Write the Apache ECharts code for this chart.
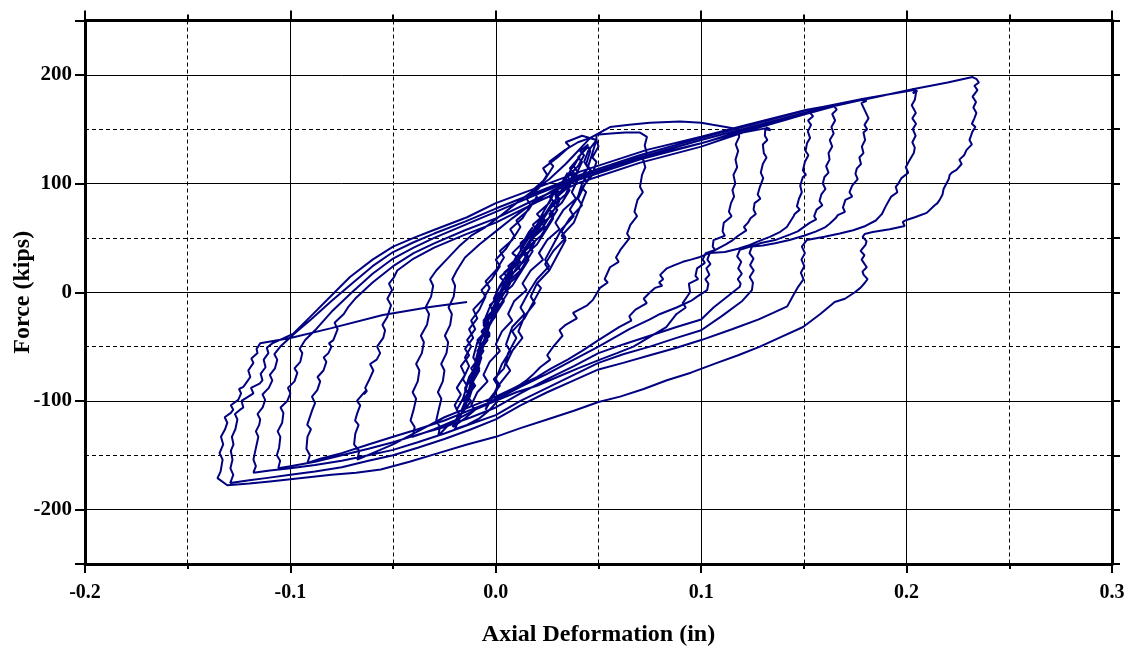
<!DOCTYPE html>
<html>
<head>
<meta charset="utf-8">
<script src="https://cdn.jsdelivr.net/npm/echarts@6/dist/echarts.min.js"></script>
<style>html,body{margin:0;padding:0;background:#fff}#chart{width:1131px;height:650px}</style>
</head>
<body>
<div id="chart"></div>
<script>
// ---- data (x = axial deformation in, y = force kips) ----
const xTitle = 'Axial Deformation (in)';
const yTitle = 'Force (kips)';

const elastic = [
[0.000,0],[0.004,10],[0.002,14],[0.007,22],[0.010,33],[0.008,36],[0.013,45],[0.016,55],[0.018,60],
[0.015,50],[0.012,40],[0.014,36],[0.009,26],[0.006,15],[0.003,4],[0.000,-8],[0.002,-12],[-0.003,-22],[-0.005,-34],[-0.003,-40],[-0.007,-48],[-0.009,-60],
[-0.006,-48],[-0.004,-36],[-0.006,-30],[-0.002,-22],[0.000,-10],[0.003,0],[0.006,12],[0.004,18],[0.010,28],[0.014,40],[0.012,45],[0.018,56],[0.022,68],[0.020,72],[0.026,82],[0.028,90],
[0.025,80],[0.022,70],[0.024,66],[0.018,56],[0.014,44],[0.010,32],[0.012,28],[0.006,18],[0.002,6],[-0.001,-6],[0.001,-12],[-0.004,-22],[-0.006,-36],[-0.004,-44],[-0.008,-54],[-0.010,-66],[-0.008,-72],[-0.012,-85],
[-0.009,-72],[-0.007,-60],[-0.009,-54],[-0.005,-44],[-0.003,-30],[-0.001,-18],[-0.003,-12],[0.002,-4],[0.005,8],[0.008,20],[0.006,24],[0.012,34],[0.016,46],[0.020,58],[0.018,62],[0.024,72],[0.028,84],[0.026,88],[0.032,98],[0.035,110],
[0.032,100],[0.029,90],[0.031,86],[0.025,74],[0.021,62],[0.017,50],[0.019,46],[0.013,36],[0.009,24],[0.005,12],[0.007,8],[0.001,-2],[-0.003,-14],[-0.006,-28],[-0.004,-34],[-0.009,-46],[-0.011,-60],[-0.009,-66],[-0.013,-78],[-0.015,-90],[-0.013,-94],[-0.016,-100],
[-0.012,-88],[-0.010,-76],[-0.012,-70],[-0.008,-60],[-0.006,-46],[-0.004,-32],[-0.006,-26],[-0.001,-16],[0.003,-4],[0.007,8],[0.005,12],[0.011,22],[0.015,34],[0.019,46],[0.017,50],[0.023,60],[0.027,72],[0.031,84],[0.029,88],[0.035,98],[0.038,110],[0.036,114],[0.041,125],
[0.037,114],[0.034,104],[0.036,98],[0.030,88],[0.026,76],[0.022,64],[0.024,60],[0.018,50],[0.014,38],[0.010,26],[0.012,20],[0.006,10],[0.002,-2],[-0.002,-16],[0.000,-22],[-0.005,-34],[-0.008,-48],[-0.006,-54],[-0.010,-66],[-0.012,-80],[-0.010,-86],[-0.014,-96],[-0.017,-110],
[-0.013,-98],[-0.011,-86],[-0.013,-80],[-0.009,-70],[-0.007,-56],[-0.005,-42],[-0.007,-36],[-0.002,-26],[0.002,-12],[0.006,0],[0.004,4],[0.010,14],[0.014,26],[0.018,38],[0.016,42],[0.022,52],[0.026,64],[0.030,76],[0.028,80],[0.034,90],[0.037,102],[0.035,106],[0.040,116],[0.043,126],[0.041,130],[0.045,136],
[0.041,126],[0.038,116],[0.040,110],[0.034,100],[0.030,88],[0.026,76],[0.028,72],[0.022,62],[0.018,50],[0.014,38],[0.016,32],[0.010,22],[0.006,10],[0.002,-2],[0.004,-8],[-0.002,-18],[-0.005,-32],[-0.003,-38],[-0.008,-50],[-0.010,-64],[-0.008,-70],[-0.012,-82],[-0.014,-96],[-0.012,-100],[-0.016,-110],[-0.019,-118],
[-0.015,-106],[-0.013,-94],[-0.015,-88],[-0.011,-78],[-0.009,-64],[-0.007,-50],[-0.009,-44],[-0.004,-34],[0.000,-20],[0.004,-8],[0.002,-4],[0.008,6],[0.012,18],[0.016,30],[0.014,34],[0.020,44],[0.024,56],[0.028,68],[0.026,72],[0.032,82],[0.036,94],[0.034,98],[0.039,108],[0.042,120],[0.040,124],[0.045,134],[0.046,130],
[0.044,118],[0.046,112],[0.042,100],[0.040,88],[0.036,76],[0.038,70],[0.032,58],[0.028,44],[0.024,30],[0.026,24],[0.020,12],[0.016,0],[0.012,-14],[0.014,-20],[0.008,-32],[0.005,-48],[0.007,-54],[0.003,-66],[0.000,-80],[0.002,-86],[-0.003,-98],[-0.005,-108],
[-0.002,-98],[0.001,-86],[-0.001,-80],[0.004,-70],[0.006,-56],[0.010,-42],[0.008,-36],[0.014,-24],[0.018,-10],[0.022,4],[0.020,8],[0.026,20],[0.030,34],[0.034,48],[0.032,52],[0.038,64],[0.041,78],[0.044,92],[0.042,96],[0.047,108],[0.049,120],[0.047,124],[0.050,134],[0.049,140],
[0.047,128],[0.045,116],[0.047,110],[0.043,98],[0.040,86],[0.042,80],[0.036,68],[0.032,56],[0.034,50],[0.028,38],[0.024,26],[0.026,20],[0.020,8],[0.017,-4],[0.019,-10],[0.014,-22],[0.011,-36],[0.013,-42],[0.008,-54],[0.005,-66],[0.007,-72],[0.002,-84],[-0.001,-96],[0.001,-100],[-0.004,-110],[-0.008,-116],[-0.014,-122],[-0.020,-126],
[-0.017,-114],[-0.019,-108],[-0.016,-98],[-0.014,-86],[-0.016,-80],[-0.013,-68],[-0.015,-60],[-0.012,-50],[-0.014,-44],[-0.010,-34],[-0.012,-26],[-0.008,-16],[-0.005,-4],[-0.007,2],[-0.002,12],[0.002,24],[0.000,30],[0.005,40],[0.009,52],[0.007,58],[0.013,68],[0.017,80],[0.015,86],[0.021,96],[0.025,108],[0.023,114],[0.030,124],[0.036,134],[0.034,138],[0.042,144],[0.049,140],
[0.045,130],[0.043,120],[0.045,114],[0.040,104],[0.037,92],[0.039,86],[0.033,76],[0.029,64],[0.031,58],[0.025,48],[0.021,36],[0.023,30],[0.017,20],[0.013,8],[0.015,2],[0.009,-8],[0.006,-20],[0.008,-26],[0.003,-36],[0.000,-48],[0.002,-54],[-0.003,-64],[-0.006,-76],[-0.004,-82],[-0.009,-92],[-0.012,-104],[-0.010,-108],[-0.015,-116],[-0.021,-124],
[-0.018,-112],[-0.020,-104],[-0.017,-94],[-0.019,-88],[-0.015,-76],[-0.017,-68],[-0.013,-58],[-0.015,-52],[-0.011,-42],[-0.013,-34],[-0.009,-24],[-0.011,-16],[-0.006,-6],[-0.003,4],[-0.005,10],[0.000,20],[0.004,32],[0.002,38],[0.008,48],[0.012,60],[0.010,66],[0.016,76],[0.020,88],[0.018,94],[0.024,104],[0.028,116],[0.026,120],[0.033,130],[0.040,138],[0.046,142],[0.049,140]
];

const cycle1 = [
[0.049,145],[0.056,146],[0.063,147],[0.070,147],[0.0736,143],
[0.0725,135],[0.0735,128],[0.0717,122],[0.0728,115],[0.0712,108],[0.0702,97],[0.0716,92],[0.069,85],[0.0675,74],[0.0688,70],[0.0655,62],[0.0639,54],[0.0652,50],[0.061,40],[0.0585,32],[0.0598,28],[0.0556,23],[0.053,12],[0.0545,9],[0.0507,4],[0.0473,-7],
[0.0445,-12],[0.0376,-19],[0.0395,-24],[0.034,-30],[0.031,-35],[0.0325,-40],[0.028,-50],[0.025,-58],[0.0265,-62],[0.0216,-69],[0.018,-76],[0.015,-81],[0.011,-86],[0.007,-90],
[0.000,-98],[-0.010,-108],[-0.020,-118],[-0.030,-126],[-0.0405,-133],
[-0.0395,-124],[-0.0415,-118],[-0.0400,-108],[-0.0388,-98],[-0.0405,-92],[-0.0380,-82],[-0.0372,-72],[-0.0388,-66],[-0.0360,-56],[-0.0350,-46],[-0.0365,-40],[-0.0335,-30],[-0.0325,-20],[-0.0342,-14],[-0.0315,-4],[-0.0305,6],[-0.0320,12],[-0.0290,20],
[-0.0240,30],[-0.0180,42],[-0.0120,52],[-0.005,60],[0.002,70],[0.010,82],[0.018,93],[0.026,104],[0.034,118],[0.040,130],[0.046,142],[0.0556,152],[0.065,154],[0.075,156],[0.0897,157],[0.100,156],[0.1056,154],[0.112,152],[0.118,150]
];

const cycle2 = [
[0.1185,143],[0.1168,136],[0.118,130],[0.1167,122],[0.1175,115],[0.1157,108],[0.1166,100],[0.1152,94],[0.1160,88],[0.1145,82],[0.1135,74],[0.1148,70],[0.111,64],[0.1104,56],[0.1115,52],[0.106,48],[0.1056,42],[0.1068,39],[0.1022,36],[0.1007,30],[0.1018,27],[0.098,22],[0.0972,15],[0.0985,12],[0.094,8],[0.0946,0],
[0.091,-10],[0.0925,-14],[0.088,-20],[0.083,-32],[0.076,-40],[0.067,-50],[0.059,-56],[0.0507,-62],[0.040,-70],[0.030,-78],[0.020,-86],[0.010,-92],[0.000,-100],[-0.010,-108],[-0.018,-116],[-0.024,-124],[-0.028,-132],
[-0.0272,-124],[-0.0290,-118],[-0.0278,-108],[-0.0265,-98],[-0.0282,-92],[-0.0258,-82],[-0.0250,-72],[-0.0266,-66],[-0.0240,-56],[-0.0232,-46],[-0.0248,-40],[-0.0222,-30],[-0.0214,-20],[-0.0230,-14],[-0.0205,-4],[-0.0198,6],[-0.0212,12],[-0.0190,20],
[-0.015,32],[-0.008,44],[0.000,56],[0.008,68],[0.018,82],[0.028,94],[0.041,105],[0.060,118],[0.080,128],[0.100,137],[0.115,145],[0.1319,151],
[0.1335,150],[0.1315,152],[0.1338,149],[0.1312,150]
];

const cycle3 = [
[0.131,144],[0.1322,140],[0.130,136],[0.1305,128],[0.1318,124],[0.1300,118],[0.129,110],[0.1302,105],[0.1286,97],[0.1275,90],[0.1288,86],[0.126,82],[0.1255,76],[0.1266,72],[0.1240,68],[0.1228,64],[0.1208,60],[0.1220,57],[0.1180,52],[0.1154,48],[0.112,44],[0.109,41],[0.104,36],[0.0994,32.5],[0.095,30],[0.0911,28],[0.087,25],[0.0833,22],
[0.080,16],[0.0815,12],[0.0795,9],[0.081,6],[0.0775,4],[0.0751,0],
[0.072,-6],[0.0735,-10],[0.068,-16],[0.065,-22],[0.066,-26],[0.060,-32],[0.055,-38],[0.050,-44],[0.042,-54],[0.035,-62],[0.027,-70],[0.020,-78],[0.010,-87],[0.000,-96],[-0.012,-105],[-0.025,-115],[-0.038,-128],[-0.050,-140],[-0.060,-148],[-0.0674,-154],
[-0.0665,-146],[-0.0690,-140],[-0.0684,-130],[-0.0668,-122],[-0.0685,-118],[-0.0674,-111],[-0.0660,-104],[-0.0676,-100],[-0.0645,-93],[-0.063,-90],[-0.0642,-94],[-0.0628,-91],[-0.0636,-88],[-0.0615,-80],[-0.0596,-72],[-0.0612,-66],[-0.0580,-62],[-0.0563,-56],[-0.0578,-50],[-0.0548,-42],[-0.0539,-35],[-0.0552,-30],[-0.0529,-23],
[-0.0510,-12],[-0.0528,-6],[-0.0505,2],[-0.0520,8],[-0.0495,14],[-0.0480,20],[-0.040,31],[-0.030,41],[-0.015,53],[0.000,64],[0.020,83],[0.041,101],[0.070,119],[0.100,134],[0.125,150],[0.140,158],[0.1529,165]
];

const cycle4 = [
[0.1545,162],[0.152,158],[0.1535,154],[0.1519,148],[0.1530,142],[0.1515,137],[0.1508,130],[0.1522,126],[0.1505,120],[0.1495,112],[0.1510,108],[0.1495,106],[0.1482,98],[0.149,92],[0.1476,86],[0.1466,79],[0.1480,76],[0.1455,72],[0.145,70],[0.1430,64],[0.1417,60],[0.1380,55],[0.1334,51],[0.128,47],[0.1237,43.5],[0.118,40],[0.1115,37],[0.1042,36],
[0.1030,30],[0.1045,26],[0.1025,22],[0.1040,16],[0.1020,12],[0.1035,8],[0.1029,2],
[0.098,-4],[0.095,-8],[0.088,-14],[0.080,-20],[0.075,-25],[0.065,-34],[0.050,-50],[0.038,-62],[0.025,-75],[0.012,-87],[0.000,-99],[-0.012,-108],[-0.025,-118],[-0.038,-126],[-0.050,-133],[-0.062,-140],[-0.075,-148],[-0.085,-153],[-0.0917,-157],
[-0.0905,-150],[-0.0922,-144],[-0.0917,-133],[-0.0900,-126],[-0.0918,-122],[-0.0893,-108],[-0.0880,-102],[-0.0895,-96],[-0.0869,-90],[-0.0855,-82],[-0.0868,-78],[-0.0839,-72],[-0.0825,-64],[-0.0838,-60],[-0.0815,-56],[-0.0800,-50],[-0.0812,-47],[-0.0791,-44],
[-0.0770,-34],[-0.0785,-28],[-0.0740,-20],[-0.0720,-14],[-0.0680,-5],[-0.060,9],[-0.050,24],[-0.040,36],[-0.030,45],[-0.015,57],[0.000,68],[0.020,86],[0.041,104],[0.070,122],[0.100,137],[0.122,150],[0.145,161],[0.1648,171]
];

const cycle5 = [
[0.1660,168],[0.1638,164],[0.1652,158],[0.1634,152],[0.1645,146],[0.1626,140],[0.1638,134],[0.1620,128],[0.1625,122],[0.1608,116],[0.1620,110],[0.1600,106],[0.1592,100],[0.1605,95],[0.1585,90],[0.1576,84],[0.1590,80],[0.1562,76],[0.1550,70],[0.1560,67],[0.1530,64],[0.1514,62],[0.1470,56],[0.1431,53],[0.136,48],[0.1285,45],[0.124,42],[0.1188,39],
[0.1175,33],[0.1195,28],[0.1180,22],[0.1198,17],[0.1178,12],[0.1192,8],[0.1188,5],
[0.112,-5],[0.106,-14],[0.100,-25],[0.088,-32],[0.075,-40],[0.062,-48],[0.050,-56],[0.038,-68],[0.025,-80],[0.012,-93],[0.000,-106],[-0.012,-115],[-0.025,-124],[-0.038,-131],[-0.050,-138],[-0.062,-144],[-0.075,-150],[-0.088,-156],[-0.100,-160],[-0.1059,-162],
[-0.1050,-155],[-0.1066,-150],[-0.1055,-143],[-0.1049,-133],[-0.1062,-128],[-0.1040,-120],[-0.1034,-111],[-0.1048,-106],[-0.1015,-100],[-0.1000,-93],[-0.1012,-88],[-0.0980,-82],[-0.0966,-74],[-0.0980,-70],[-0.0952,-64],[-0.0942,-56],[-0.0955,-52],[-0.0928,-44],
[-0.088,-35],[-0.080,-18],[-0.070,0],[-0.060,17],[-0.050,31],[-0.040,41],[-0.030,50],[-0.015,62],[0.000,74],[0.020,90],[0.041,106],[0.070,124],[0.100,140],[0.122,151],[0.150,165],[0.1785,177],
[0.1800,175],[0.1778,178],[0.1805,176],[0.1780,174]
];

const cycle6 = [
[0.1800,166],[0.1815,160],[0.1795,154],[0.1808,150],[0.1790,147],[0.1798,140],[0.1782,134],[0.1790,128],[0.1770,124],[0.1778,118],[0.1758,114],[0.1751,109],[0.1762,104],[0.1735,98],[0.1722,92],[0.1735,88],[0.1702,85],[0.1690,78],[0.1700,74],[0.1665,71],[0.1654,68],[0.1625,63],[0.1605,60],[0.1560,56],[0.1500,52],[0.1430,48],[0.1360,45],[0.1300,43],[0.1247,42],
[0.1235,36],[0.1255,31],[0.1238,25],[0.1256,20],[0.1236,14],[0.1252,9],[0.1247,2],
[0.120,-8],[0.110,-22],[0.100,-35],[0.088,-42],[0.075,-50],[0.062,-57],[0.050,-65],[0.038,-76],[0.025,-88],[0.012,-100],[0.000,-113],[-0.012,-121],[-0.025,-130],[-0.038,-138],[-0.050,-145],[-0.062,-150],[-0.075,-155],[-0.088,-159],[-0.100,-162],[-0.110,-164],[-0.118,-166],
[-0.1168,-160],[-0.1180,-154],[-0.1170,-145],[-0.1156,-133],[-0.1168,-128],[-0.1152,-122],[-0.1147,-117],[-0.1160,-112],[-0.1135,-106],[-0.1123,-99],[-0.1136,-94],[-0.1105,-88],[-0.1088,-81],[-0.1100,-76],[-0.1075,-70],[-0.1064,-62],[-0.1078,-57],[-0.1049,-50],
[-0.098,-38],[-0.090,-25],[-0.080,-8],[-0.070,8],[-0.060,24],[-0.050,37],[-0.040,46],[-0.030,54],[-0.015,65],[0.000,77],[0.020,92],[0.041,108],[0.070,126],[0.100,142],[0.122,153],[0.150,167],[0.179,178],[0.2035,186],
[0.2050,184],[0.2025,187],[0.2052,185],[0.2030,183],[0.2048,186]
];

const cycle7 = [
[0.2040,177],[0.2025,172],[0.2045,165],[0.2028,160],[0.2046,155],[0.2030,150],[0.2044,144],[0.2028,138],[0.2040,133],[0.2035,128],[0.2010,120],[0.1996,115],[0.2008,110],[0.1975,105],[0.1960,100],[0.1947,97],[0.1955,92],[0.1925,88],[0.1910,83],[0.1898,79],[0.1880,72],[0.1870,70],[0.1850,66],[0.1800,61],[0.1740,57],[0.1675,54],[0.1600,51],[0.1514,48],
[0.1490,42],[0.1505,36],[0.1488,30],[0.1502,24],[0.1485,18],[0.1498,12],[0.1472,5],[0.1445,-4],[0.1419,-13],
[0.135,-19],[0.128,-25],[0.115,-34],[0.100,-44],[0.088,-51],[0.075,-58],[0.062,-65],[0.050,-71],[0.038,-81],[0.025,-92],[0.012,-104],[0.000,-117],[-0.012,-126],[-0.025,-135],[-0.038,-143],[-0.050,-150],[-0.062,-155],[-0.075,-161],[-0.088,-165],[-0.100,-168],[-0.112,-171],[-0.120,-173],[-0.1293,-175.5],
[-0.1278,-168],[-0.1292,-162],[-0.1282,-154],[-0.1290,-146],[-0.1277,-140],[-0.1285,-133],[-0.1268,-126],[-0.1258,-117],[-0.1270,-112],[-0.1245,-108],[-0.1229,-106],[-0.1238,-100],[-0.1205,-96],[-0.1180,-93],[-0.1192,-88],[-0.1150,-84],[-0.1136,-81],[-0.1145,-75],[-0.1121,-69],[-0.1130,-62],[-0.1107,-56],[-0.1115,-51],[-0.1088,-47],
[-0.0985,-38],[-0.090,-22],[-0.080,-3],[-0.071,14],[-0.060,30],[-0.050,42],[-0.040,50],[-0.0305,57],[-0.014,69],[0.000,82],[0.017,94],[0.041,111],[0.0736,131],[0.100,143],[0.122,154],[0.1514,168],[0.179,177],[0.2035,187],[0.220,193],[0.2321,198]
];

const cycle8 = [
[0.2341,196],[0.2352,193],[0.2330,190],[0.2345,186],[0.2321,180],[0.2338,175],[0.2325,170],[0.2340,165],[0.2330,160],[0.2318,155],[0.2335,152],[0.2321,148],[0.2306,140],[0.2318,136],[0.2292,131],[0.2280,126],[0.2257,122],[0.2268,118],[0.2243,112.5],[0.2220,110],[0.2210,108],[0.2205,104],[0.2195,100.5],[0.2180,95],[0.2175,90],[0.2161,85],[0.2150,82],[0.2137,80],[0.2098,73],[0.2040,69],[0.2000,66.5],[0.1981,64.7],[0.1991,61],[0.1918,58],[0.1835,55.5],[0.1796,53.6],
[0.1786,51],[0.1805,47],[0.1800,43.5],[0.1776,38],[0.1795,34],[0.1781,30],[0.1806,23],[0.1785,19],[0.1791,16],[0.1810,12],[0.1796,8.5],[0.1775,4],[0.1748,0],
[0.1700,-6],[0.1650,-9],[0.1580,-20],[0.1496,-32],[0.1390,-41],[0.1286,-50],[0.1180,-58],[0.1077,-65],[0.0950,-74],[0.0833,-81],[0.0720,-89],[0.0605,-96],[0.0500,-101],[0.0380,-109],[0.0250,-117],[0.0120,-125],[0.000,-133],[-0.014,-140],[-0.028,-148],[-0.042,-156],[-0.056,-163],[-0.068,-166],[-0.080,-168],[-0.090,-170],[-0.100,-172],[-0.110,-174],[-0.120,-176],[-0.1307,-177.5],[-0.1355,-171],
[-0.1340,-165],[-0.1330,-154],[-0.1345,-148],[-0.1327,-140],[-0.1338,-133],[-0.1318,-126],[-0.1307,-120],[-0.1320,-115],[-0.1290,-111],[-0.1278,-108],[-0.1290,-104],[-0.1254,-99],[-0.1240,-93],[-0.1250,-89],[-0.1229,-87],[-0.1210,-82],[-0.1195,-78],[-0.1205,-72],[-0.1180,-65],[-0.1190,-61],[-0.1160,-56],[-0.1165,-52],[-0.1157,-50],[-0.1147,-47],
[-0.100,-42],[-0.080,-33],[-0.055,-21],[-0.032,-13.5],[-0.014,-9]
];

const cycles = [elastic, cycle1, cycle2, cycle3, cycle4, cycle5, cycle6, cycle7, cycle8];
const path = [].concat(...cycles);

const FONT = '"Liberation Serif", "Times New Roman", serif';
const chart = echarts.init(document.getElementById('chart'), null, {renderer: 'canvas'});
const black = '#000';
chart.setOption({
  animation: false,
  backgroundColor: '#fff',
  grid: {left: 85, right: 19, top: 20.5, bottom: 86, containLabel: false, outerBoundsMode: 'none'},
  xAxis: [
    {
      type: 'value', position: 'bottom', min: -0.2, max: 0.3, interval: 0.1,
      axisLine: {show: true, onZero: false, lineStyle: {color: black, width: 3}},
      axisTick: {show: true, inside: false, length: 9, lineStyle: {color: black, width: 2}},
      minorTick: {show: true, splitNumber: 2, length: 5, lineStyle: {color: black, width: 2}},
      splitLine: {show: true, lineStyle: {color: black, width: 1}},
      minorSplitLine: {show: true, lineStyle: {color: black, width: 1, type: [4, 3]}},
      axisLabel: {
        margin: 19, color: black, fontFamily: FONT, fontWeight: 'bold', fontSize: 20,
        formatter: v => (Math.abs(v) < 1e-9 ? '0.0' : v.toFixed(1))
      },
      name: xTitle, nameLocation: 'middle', nameGap: 59,
      nameTextStyle: {color: black, fontFamily: FONT, fontWeight: 'bold', fontSize: 24}
    },
    {
      type: 'value', position: 'top', min: -0.2, max: 0.3, interval: 0.1,
      axisLine: {show: true, onZero: false, lineStyle: {color: black, width: 3}},
      axisTick: {show: true, inside: false, length: 10, lineStyle: {color: black, width: 2}},
      minorTick: {show: true, splitNumber: 2, length: 6, lineStyle: {color: black, width: 2}},
      splitLine: {show: false}, axisLabel: {show: false}
    }
  ],
  yAxis: [
    {
      type: 'value', position: 'left', min: -250, max: 250, splitNumber: 5,
      axisLine: {show: true, onZero: false, lineStyle: {color: black, width: 3}},
      axisTick: {show: true, inside: false, length: 10, lineStyle: {color: black, width: 2}},
      splitLine: {show: true, lineStyle: {color: black, width: 1}},
      axisLabel: {
        margin: 13, color: black, fontFamily: FONT, fontWeight: 'bold', fontSize: 21,
        formatter: v => (Math.abs(v) > 240 ? '' : String(Math.round(v)))
      },
      name: yTitle, nameLocation: 'middle', nameGap: 50, nameRotate: 90, nameMoveOverlap: false,
      nameTextStyle: {color: black, fontFamily: FONT, fontWeight: 'bold', fontSize: 24}
    },
    {
      type: 'value', position: 'right', min: -250, max: 250, splitNumber: 10,
      axisLine: {show: true, onZero: false, lineStyle: {color: black, width: 3}},
      axisTick: {show: true, inside: false, length: 8, lineStyle: {color: black, width: 2}},
      splitLine: {show: true, lineStyle: {color: black, width: 1, type: [4, 3]}},
      axisLabel: {show: false}
    }
  ],
  series: [{
    type: 'line', xAxisIndex: 0, yAxisIndex: 0, data: path,
    showSymbol: false, symbol: 'none', smooth: false,
    lineStyle: {color: '#000080', width: 2}, z: 5
  }]
});
</script>
</body>
</html>
